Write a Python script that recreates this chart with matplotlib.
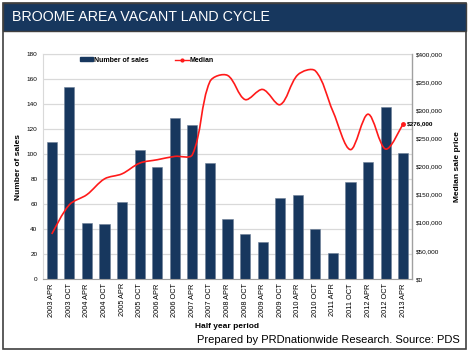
"""Broome area vacant land cycle - bars (sales) + smoothed median line"""

import numpy as np
import matplotlib
matplotlib.use('Agg')
import matplotlib.pyplot as plt
from matplotlib.path import Path
from matplotlib.patches import PathPatch, Rectangle
from matplotlib.lines import Line2D
from matplotlib.ticker import FuncFormatter, MultipleLocator

plt.rcParams['font.family'] = ['Liberation Sans', 'DejaVu Sans']

# ========== data ==========
periods = ['2003 APR', '2003 OCT', '2004 APR', '2004 OCT', '2005 APR', '2005 OCT',
           '2006 APR', '2006 OCT', '2007 APR', '2007 OCT', '2008 APR', '2008 OCT',
           '2009 APR', '2009 OCT', '2010 APR', '2010 OCT', '2011 APR', '2011 OCT',
           '2012 APR', '2012 OCT', '2013 APR']
sales = [110, 154, 45, 44, 62, 103, 90, 129, 123, 93, 48, 36, 30, 65, 67, 40,
         21, 78, 94, 138, 101]
median = [80000, 132000, 150000, 178000, 187000, 206000, 212000, 218000, 221000,
          351000, 362000, 319000, 337000, 310000, 363000, 370000, 298000, 230000,
          293000, 231000, 276000]

NAVY = '#17375e'
RED = '#ff1a1a'
GRID = '#d9d9d9'

# ========== figure ==========
fig = plt.figure(figsize=(4.7, 3.52), dpi=100)
fig.patch.set_facecolor('white')

# outer frame + title band
fig.add_artist(Rectangle((3 / 470, 3 / 352), 463 / 470, 346 / 352, transform=fig.transFigure,
                         facecolor='none', edgecolor='#404040', lw=1.2))
fig.add_artist(Rectangle((3 / 470, 321 / 352), 463 / 470, 28 / 352, transform=fig.transFigure,
                         facecolor=NAVY, edgecolor='#404040', lw=1.0))
fig.text(12 / 470, 335 / 352, 'BROOME AREA VACANT LAND CYCLE', color='white',
         fontsize=10.3, ha='left', va='center')

ax = fig.add_axes([43 / 470, 73 / 352, 369 / 470, 225 / 352])
x = np.arange(len(periods))
ax.bar(x, sales, width=0.58, color=NAVY, edgecolor='#6d7f96', linewidth=0.4, zorder=2,
       label='Number of sales')
ax.set_xlim(-0.5, len(periods) - 0.5)
ax.set_ylim(0, 180)
ax.yaxis.set_major_locator(MultipleLocator(20))
ax.grid(axis='y', color=GRID, lw=0.9, zorder=0)
ax.set_axisbelow(True)
ax.set_xticks(x)
ax.set_xticklabels(periods, rotation=90, fontsize=5.3)
ax.tick_params(axis='y', length=0, pad=4, labelsize=4.6)
ax.tick_params(axis='x', length=0, pad=3)
for sp in ['top', 'left']:
    ax.spines[sp].set_color(GRID)
ax.spines['bottom'].set_color('#a0a0a0')
ax.spines['right'].set_visible(False)
ax.set_ylabel('Number of sales', fontsize=6, fontweight='bold', labelpad=3)
ax.set_xlabel('Half year period', fontsize=6, fontweight='bold', labelpad=4)

ax2 = ax.twinx()
ax2.set_ylim(0, 400000)
ax2.yaxis.set_major_locator(MultipleLocator(50000))
ax2.yaxis.set_major_formatter(FuncFormatter(lambda v, p: f'${v:,.0f}'))
ax2.tick_params(axis='y', length=0, pad=3, labelsize=4.6)
ax2.spines['right'].set_color('#a0a0a0')
ax2.spines['right'].set_linewidth(1.0)
for sp in ['top', 'left', 'bottom']:
    ax2.spines[sp].set_visible(False)
ax2.set_ylabel('Median sale price', fontsize=6, fontweight='bold', labelpad=8)

# smoothed median: cubic Bezier, arms scaled by chord length in screen units
pts = np.column_stack([x, median]).astype(float)
scale = np.array([369 / 21, 225 / 400000])   # px per data unit

def chord(a, b):
    return np.hypot(*((b - a) * scale))

verts = [pts[0]]
codes = [Path.MOVETO]
n = len(pts)
for i in range(n - 1):
    p0 = pts[max(i - 1, 0)]
    p1 = pts[i]
    p2 = pts[i + 1]
    p3 = pts[min(i + 2, n - 1)]
    d01, d12, d23 = chord(p0, p1), chord(p1, p2), chord(p2, p3)
    k1 = d12 / (d01 + d12) if d01 > 0 else 0.5
    k2 = d12 / (d12 + d23) if d23 > 0 else 0.5
    verts += [p1 + (p2 - p0) / 3 * k1, p2 - (p3 - p1) / 3 * k2, p2]
    codes += [Path.CURVE4] * 3
ax2.add_patch(PathPatch(Path(verts, codes), facecolor='none', edgecolor=RED, lw=1.2, zorder=3))
ax2.plot(x[-1], median[-1], 'o', color=RED, ms=2.5, zorder=4)
ax2.annotate(f'${median[-1]:,.0f}', (x[-1], median[-1]), xytext=(3, 0),
             textcoords='offset points', fontsize=4.6, fontweight='bold',
             ha='left', va='center', annotation_clip=False)

# legend
h1 = Rectangle((0, 0), 1, 1, color=NAVY)
h2 = Line2D([0], [0], color=RED, lw=1.0, marker='o', ms=2, markevery=[1])
leg = ax.legend([h1, h2], ['Number of sales', 'Median'], loc='upper left',
                bbox_to_anchor=(0.082, 1.015), ncol=2, frameon=False,
                prop={'weight': 'bold', 'size': 5}, handlelength=2.0, handleheight=0.5,
                columnspacing=3.8, handletextpad=0.1)

fig.text(460 / 470, 12 / 352, 'Prepared by PRDnationwide Research. Source: PDS',
         fontsize=8, ha='right', va='center')

fig.savefig('out.png', dpi=100)
